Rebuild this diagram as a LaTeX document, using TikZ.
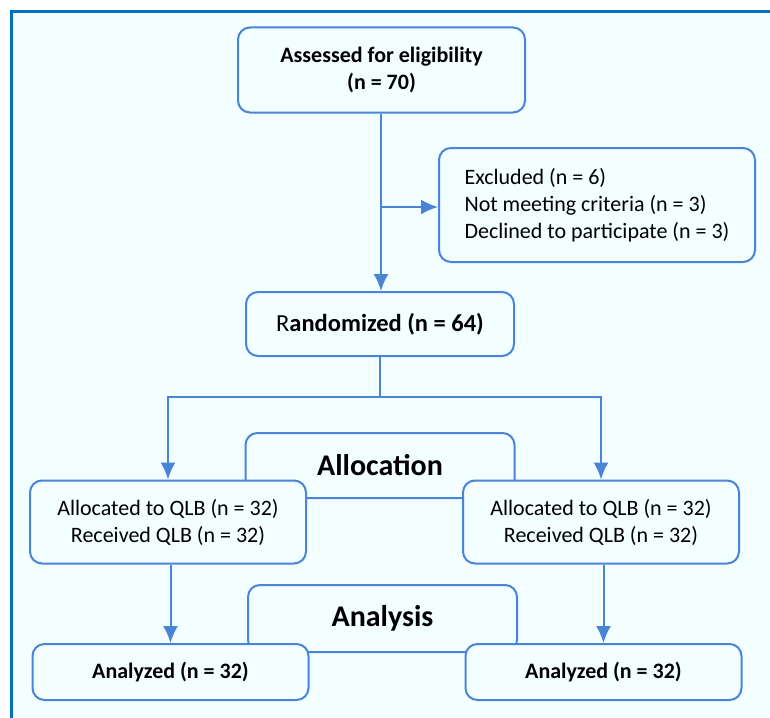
\documentclass[tikz,border=0pt]{standalone}
\usepackage{fontspec}
\setmainfont{Carlito}
\usepackage{tikz}
\usetikzlibrary{arrows.meta,positioning,calc}
\definecolor{frameblue}{HTML}{0070C0}
\definecolor{lineblue}{HTML}{4A84D6}
\definecolor{panel}{HTML}{F2FEFF}
\newcommand{\txtsize}[1]{\fontsize{#1}{27}\selectfont}

\begin{document}
\begin{tikzpicture}[>={Latex[length=17pt,width=15pt]},x=1pt,y=-1pt]
\tikzstyle{box}=[draw=lineblue,line width=2pt,rounded corners=12pt,fill=panel,align=center,inner sep=0pt,font=\txtsize{22}]
\tikzstyle{stage}=[box,minimum width=269pt,font=\txtsize{30}\bfseries]
\tikzstyle{flow}=[draw=lineblue,line width=2pt]
\useasboundingbox (0,0) rectangle (770,717);
\draw[frameblue,fill=panel,line width=3pt] (11.5,11.5) rectangle (790,740);
% screening
\node[box,minimum width=287pt,minimum height=85pt,font=\txtsize{22}\bfseries] (assess) at (381.5,70) {Assessed for eligibility\\(n = 70)};
\node[box,minimum width=316pt,minimum height=114pt,align=left] (excl) at (597,205) {Excluded (n = 6)\\Not meeting criteria (n = 3)\\Declined to participate (n = 3)};
\node[box,minimum width=268pt,minimum height=64pt,font=\txtsize{24.5}] (rand) at (380,324) {R\textbf{andomized (n = 64)}};
\coordinate (cut) at (381,207);
\coordinate (fork) at (380,397);
\draw[flow,->] (assess.south -| cut) -- (rand.north -| cut);
\draw[flow,->] (cut) -- (excl.west |- cut);
\draw[flow] (rand.south) -- (fork);
% stage labels
\node[stage,minimum height=65pt] (alloc) at (380,465.5) {Allocation};
\node[stage,minimum height=67pt] (anal) at (382.5,618.5) {Analysis};
% two arms
\foreach \s/\xa/\xb in {L/168/170.5,R/601/603.5}{
    \node[box,minimum width=276pt,minimum height=83pt] (alloc\s) at (\xa,522) {Allocated to QLB (n = 32)\\Received QLB (n = 32)};
    \node[box,minimum width=276pt,minimum height=56pt,font=\txtsize{22}\bfseries] (done\s) at (\xb,672) {Analyzed (n = 32)};
    \draw[flow,->] (fork) -| (alloc\s.north);
    \draw[flow,->] (alloc\s.south -| done\s) -- (done\s.north);
}
\end{tikzpicture}
\end{document}
